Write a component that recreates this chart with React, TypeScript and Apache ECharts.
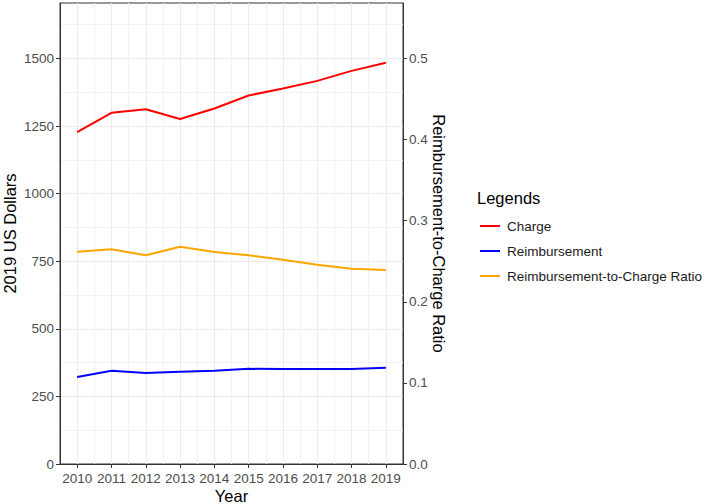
import React, { useEffect, useRef } from "react";
import * as echarts from "echarts";

const years = ["2010", "2011", "2012", "2013", "2014", "2015", "2016", "2017", "2018", "2019"];
const chargeValues = [1227, 1299, 1312, 1276, 1315, 1363, 1389, 1417, 1454, 1484];
const reimbursementValues = [322, 345, 337, 341, 345, 352, 351, 351, 351, 356];
const ratioValues = [0.2617, 0.2647, 0.2573, 0.2679, 0.2613, 0.2573, 0.2518, 0.2457, 0.2407, 0.2392];
const dollarTicks = [0, 250, 500, 750, 1000, 1250, 1500];
const ratioTicks = [0, 0.1, 0.2, 0.3, 0.4, 0.5];
const dollarMax = 1705;
const ratioScale = 3000;

const FONT = "Liberation Sans, Arial, sans-serif";
// flat line key, with zero-length moves so the box keeps its 20x14 size
const LINE_ICON = "path://M0,0L0.01,0M0,6L20,6L20,8L0,8ZM0,14L0.01,14";

const App = () => {
  const chartRef = useRef(null);

  useEffect(() => {
    const chart = echarts.init(chartRef.current, null, { renderer: "svg" });

    chart.setOption({
      animation: false,
      textStyle: { fontFamily: FONT },
      grid: {
        left: 60,
        top: 3,
        right: 302,
        bottom: 40,
        show: true,
        borderColor: "#333333",
        borderWidth: 1,
        containLabel: false,
        outerBoundsMode: "none",
      },
      title: {
        text: "Legends",
        left: 472,
        top: 184,
        textStyle: { fontSize: 16.5, fontWeight: "normal", color: "#000000", fontFamily: FONT },
      },
      legend: {
        orient: "vertical",
        left: 475,
        top: 214,
        itemWidth: 20,
        itemHeight: 14,
        itemGap: 11,
        icon: LINE_ICON,
        textStyle: { fontSize: 13.5, color: "#1A1A1A", padding: [0, 0, 0, 2], fontFamily: FONT },
        data: ["Charge", "Reimbursement", "Reimbursement-to-Charge Ratio"],
      },
      xAxis: [
        {
          type: "category",
          data: years,
          boundaryGap: true,
          position: "bottom",
          name: "Year",
          nameLocation: "middle",
          nameGap: 23,
          nameMoveOverlap: false,
          nameTextStyle: { fontSize: 16.5, color: "#000000" },
          axisLine: { show: true, lineStyle: { color: "#333333", width: 1 } },
          axisTick: { show: true, alignWithLabel: true, length: 4, lineStyle: { color: "#333333" } },
          axisLabel: { fontSize: 13.5, color: "#4D4D4D", margin: 7, interval: 0 },
          splitLine: { show: true, lineStyle: { color: "#F2F2F2", width: 1 } },
        },
        {
          type: "category",
          data: years,
          boundaryGap: true,
          position: "bottom",
          axisLine: { show: false },
          axisLabel: { show: false },
          axisTick: {
            show: true,
            inside: true,
            alignWithLabel: true,
            interval: 0,
            length: 461,
            lineStyle: { color: "#EBEBEB", width: 1 },
          },
          splitLine: { show: false },
        },
      ],
      yAxis: [
        {
          type: "value",
          min: 0,
          max: dollarMax,
          interval: 250,
          position: "left",
          name: "2019 US Dollars",
          nameLocation: "middle",
          nameGap: 42,
          nameMoveOverlap: false,
          nameTextStyle: { fontSize: 16.5, color: "#000000" },
          axisLine: { show: true, lineStyle: { color: "#333333", width: 1 } },
          axisTick: { show: true, length: 4, customValues: dollarTicks, lineStyle: { color: "#333333" } },
          axisLabel: {
            fontSize: 13.5,
            color: "#4D4D4D",
            margin: 6,
            customValues: dollarTicks,
            formatter: (v: number) => String(v),
          },
          splitLine: { show: true, lineStyle: { color: "#EBEBEB", width: 1 } },
          minorTick: { show: false, splitNumber: 2 },
          minorSplitLine: { show: true, lineStyle: { color: "#F2F2F2", width: 1 } },
        },
        {
          type: "value",
          min: 0,
          max: dollarMax / ratioScale,
          interval: 0.1,
          position: "right",
          name: "Reimbursement-to-Charge Ratio",
          nameLocation: "middle",
          nameGap: 27,
          nameMoveOverlap: false,
          nameRotate: -90,
          nameTextStyle: { fontSize: 16.5, color: "#000000" },
          axisLine: { show: true, lineStyle: { color: "#333333", width: 1 } },
          axisTick: { show: true, length: 4, customValues: ratioTicks, lineStyle: { color: "#333333" } },
          axisLabel: {
            fontSize: 13.5,
            color: "#4D4D4D",
            margin: 6,
            customValues: ratioTicks,
            formatter: (v: number) => v.toFixed(1),
          },
          splitLine: { show: false },
        },
      ],
      series: [
        {
          name: "Charge",
          type: "line",
          xAxisIndex: 0,
          yAxisIndex: 0,
          data: chargeValues,
          symbol: "none",
          lineStyle: { color: "#FF0000", width: 2 },
          itemStyle: { color: "#FF0000" },
          z: 3,
        },
        {
          name: "Reimbursement",
          type: "line",
          xAxisIndex: 0,
          yAxisIndex: 0,
          data: reimbursementValues,
          symbol: "none",
          lineStyle: { color: "#0000FF", width: 2 },
          itemStyle: { color: "#0000FF" },
          z: 3,
        },
        {
          name: "Reimbursement-to-Charge Ratio",
          type: "line",
          xAxisIndex: 0,
          yAxisIndex: 1,
          data: ratioValues,
          symbol: "none",
          lineStyle: { color: "#FFA500", width: 2 },
          itemStyle: { color: "#FFA500" },
          z: 3,
        },
      ],
    });

    return () => {
      chart.dispose();
    };
  }, []);

  return (
    <div
      ref={chartRef}
      style={{ position: "absolute", left: 0, top: 0, width: "705px", height: "504px", background: "#FFFFFF" }}
    ></div>
  );
};

export default App;
